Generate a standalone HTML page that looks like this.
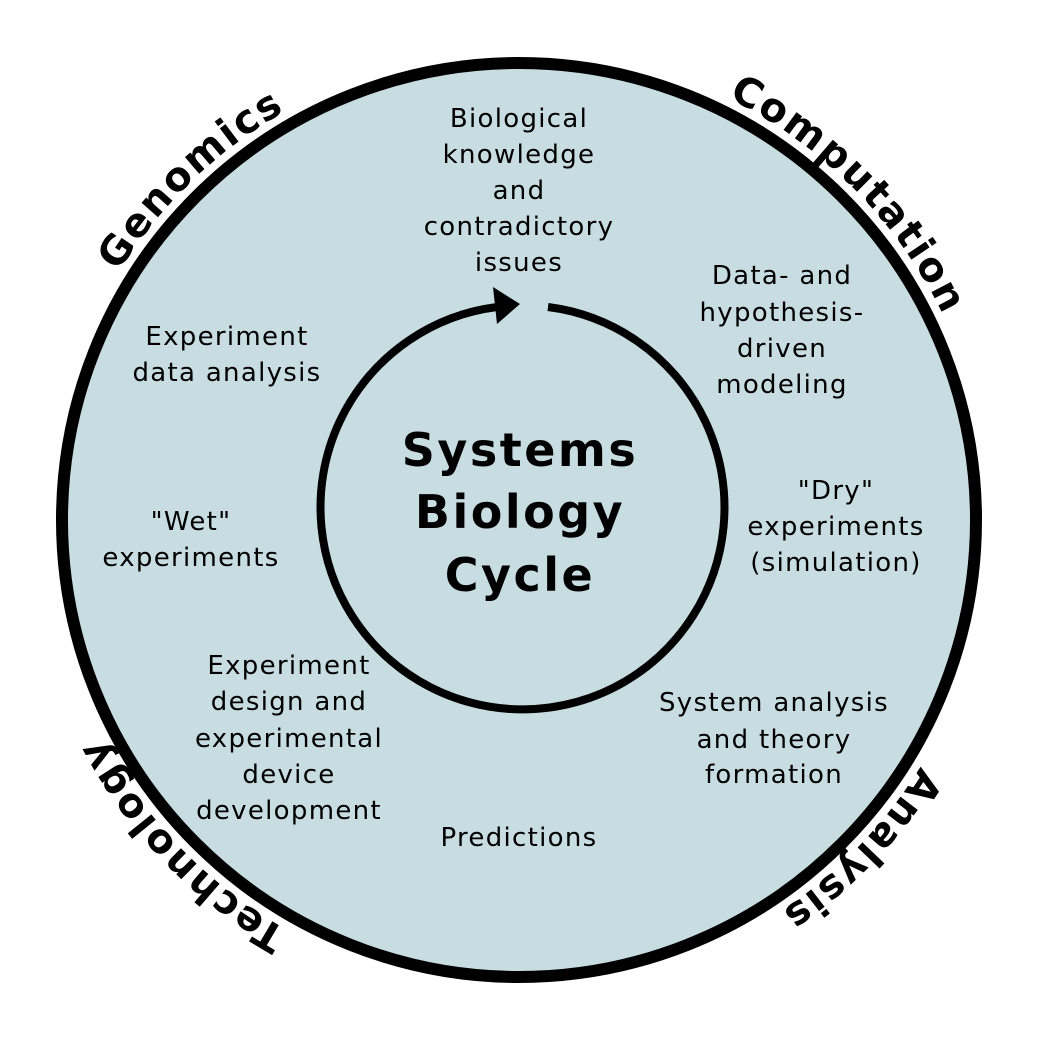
<!DOCTYPE html>
<html><head><meta charset="utf-8"><style>
html,body{margin:0;padding:0;background:#fff;}
svg{display:block;}
.t{font-family:"DejaVu Sans","Liberation Sans",sans-serif;font-size:26px;letter-spacing:1.3px;fill:#000;text-anchor:middle;}
.b{font-family:"DejaVu Sans","Liberation Sans",sans-serif;font-weight:bold;font-size:46px;letter-spacing:2.5px;fill:#000;text-anchor:middle;}
.c{font-family:"DejaVu Sans","Liberation Sans",sans-serif;font-weight:bold;font-size:40px;letter-spacing:2px;fill:#000;}
</style></head><body>
<svg width="1037" height="1044" viewBox="0 0 1037 1044">
<defs>
<path id="ring" d="M 990,520 A 471 471 0 1 1 48,520 A 471 471 0 1 1 990,520"/>
</defs>
<circle cx="519" cy="520" r="457" fill="#c8dde2" stroke="#000" stroke-width="12"/>
<path d="M 548,307 A 202 202 0 1 1 497,307" fill="none" stroke="#000" stroke-width="8"/>
<polygon points="520,304 493,287 497,324" fill="#000"/>

<text class="c"><textPath href="#ring" startOffset="62.8%" text-anchor="middle">Genomics</textPath></text>
<text class="c"><textPath href="#ring" startOffset="87.6%" text-anchor="middle">Computation</textPath></text>
<text class="c"><textPath href="#ring" startOffset="12.2%" text-anchor="middle">Analysis</textPath></text>
<text class="c"><textPath href="#ring" startOffset="37.8%" text-anchor="middle">Technology</textPath></text>

<g>
<text class="b" x="520" y="466">Systems</text>
<text class="b" x="520" y="528">Biology</text>
<text class="b" x="520" y="591">Cycle</text>
</g>

<text class="t">
<tspan x="519" y="127">Biological</tspan><tspan x="519" y="163">knowledge</tspan><tspan x="519" y="199">and</tspan><tspan x="519" y="235">contradictory</tspan><tspan x="519" y="271">issues</tspan></text>
<text class="t">
<tspan x="782" y="284">Data- and</tspan><tspan x="782" y="321">hypothesis-</tspan><tspan x="782" y="357">driven</tspan><tspan x="782" y="393">modeling</tspan></text>
<text class="t">
<tspan x="836" y="499">"Dry"</tspan><tspan x="836" y="535">experiments</tspan><tspan x="836" y="571">(simulation)</tspan></text>
<text class="t">
<tspan x="774" y="711">System analysis</tspan><tspan x="774" y="748">and theory</tspan><tspan x="774" y="783">formation</tspan></text>
<text class="t" x="519" y="846">Predictions</text>
<text class="t">
<tspan x="289" y="674">Experiment</tspan><tspan x="289" y="710">design and</tspan><tspan x="289" y="747">experimental</tspan><tspan x="289" y="783">device</tspan><tspan x="289" y="819">development</tspan></text>
<text class="t">
<tspan x="191" y="530">"Wet"</tspan><tspan x="191" y="566">experiments</tspan></text>
<text class="t">
<tspan x="227" y="345">Experiment</tspan><tspan x="227" y="381">data analysis</tspan></text>
</svg>
</body></html>
